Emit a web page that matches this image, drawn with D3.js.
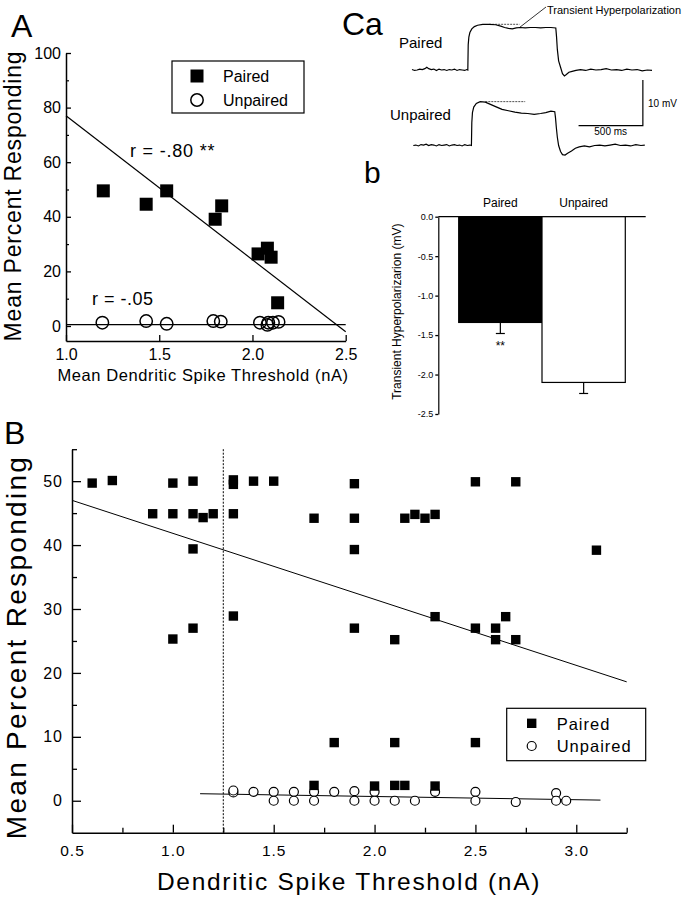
<!DOCTYPE html>
<html><head><meta charset="utf-8">
<script src="https://cdn.jsdelivr.net/npm/d3@7"></script>
<style>body{margin:0;background:#fff}svg{display:block;font-family:"Liberation Sans",Arial,sans-serif}</style>
</head><body>
<script>
// ---------- Panel A data ----------
const aPairedThreshold = [1.20, 1.43, 1.54, 1.80, 1.835, 2.03, 2.08, 2.10, 2.135];
const aPairedResponse  = [49.5, 44.6, 49.5, 39.1, 44.0, 26.4, 28.5, 25.2, 8.5];
const aUnpairedThreshold = [1.195, 1.43, 1.54, 1.79, 1.83, 2.04, 2.085, 2.14, 2.08, 2.11];
const aUnpairedResponse  = [1.2, 1.8, 0.8, 1.8, 1.6, 1.2, 1.2, 1.5, 0.4, 1.2];
const aPairedFit   = [[1.0, 77.0], [2.5, -2.1]];
const aUnpairedFit = [[1.0, 0.5], [2.5, 0.5]];
const aYTicks = [0, 20, 40, 60, 80, 100];
const aYMinor = [10, 30, 50, 70, 90];
const aXTicks = [1.0, 1.5, 2.0, 2.5];

// ---------- Panel B data ----------
const bPairedThreshold = [0.6,0.7,0.9,1.0,1.0,1.0,1.1,1.1,1.1,1.1,1.15,1.2,1.3,1.3,1.3,1.3,1.4,1.5,1.7,1.9,1.9,1.9,1.9,2.1,2.15,2.2,2.25,2.3,2.3,2.5,2.5,2.6,2.6,2.65,2.7,2.7,3.1,1.8,2.1,2.5,1.7,2.0,2.1,2.15,2.3];
const bPairedResponse  = [49.7,50.1,44.9,49.7,44.9,25.3,50.0,44.9,39.4,27.0,44.3,44.9,49.5,50.2,44.9,28.9,50.0,50.0,44.2,49.6,44.2,39.3,27.0,25.2,44.2,44.8,44.2,44.8,28.8,49.9,27.0,27.0,25.2,28.8,49.9,25.2,39.2,9.1,9.1,9.1,2.4,2.3,2.4,2.4,2.3];
const bUnpairedThreshold = [1.3,1.3,1.4,1.5,1.5,1.6,1.6,1.7,1.7,1.8,1.9,1.9,2.0,2.0,2.1,2.2,2.3,2.5,2.5,2.7,2.9,2.9,2.95];
const bUnpairedResponse  = [1.3,1.6,1.4,1.4,0,1.4,0,1.4,0,1.4,1.5,0,1.4,0,0,0,1.4,1.4,0,-0.2,1.2,0,0];
const bPairedFit   = [[0.5, 47.0], [3.25, 18.6]];
const bUnpairedFit = [[1.135, 1.1], [3.12, 0.1]];
const bCriterion = 1.25;
const bYTicks = [0, 10, 20, 30, 40, 50];
const bYMinor = [5, 15, 25, 35, 45, 55];
const bXTicks = [0.5, 1.0, 1.5, 2.0, 2.5, 3.0];
const bXMinor = [0.75, 1.25, 1.75, 2.25, 2.75, 3.25];

// ---------- Panel Ca data (time ms, membrane potential mV re baseline) ----------
const pairedTraceT = [0,20,40,60,80,100,115,130,150,170,190,210,230,250,270,290,310,330,350,370,390,410,425,434,437,442,450,465,485,510,550,600,650,690,720,750,780,810,840,880,920,960,1000,1040,1080,1118,1124,1130,1140,1155,1170,1185,1200,1220,1245,1275,1310,1350,1390,1430,1470,1510,1550,1590,1630,1670,1710,1750,1790,1830,1866];
const pairedTraceV = [0.1,-0.1,0.0,0.2,0.1,0.3,0.6,0.3,0.1,0.2,-0.1,0.2,0.0,0.1,-0.1,0.1,0.0,0.2,-0.1,0.1,0.0,-0.1,0.1,0.0,5.5,7.2,8.2,9.0,9.5,9.8,10.0,10.0,9.9,9.6,9.3,9.1,9.0,9.2,9.3,9.2,9.3,9.3,9.2,9.3,9.3,9.2,7.2,4.5,2.0,0.6,-0.8,-1.3,-1.0,-0.5,-0.3,-0.1,0.1,-0.1,0.2,0.0,0.1,0.3,0.0,0.1,-0.1,0.2,0.0,0.1,-0.2,0.0,-0.1];
const unpairedTraceT = [10,30,50,70,90,110,130,150,170,190,210,230,250,270,290,310,330,350,370,390,410,430,450,462,465,470,480,500,530,570,610,650,700,750,800,850,900,950,1000,1040,1080,1110,1116,1122,1130,1140,1155,1170,1190,1210,1240,1270,1300,1340,1380,1420,1460,1500,1540,1580,1620,1660,1700,1740,1780,1810];
const unpairedTraceV = [0.0,0.1,-0.1,0.2,0.1,0.3,0.0,0.2,0.1,-0.1,0.2,0.0,0.1,0.2,-0.1,0.1,0.2,0.0,0.1,-0.1,0.2,0.0,0.1,0.0,5.0,7.2,8.4,9.2,9.6,9.5,9.0,8.5,7.9,7.6,7.3,7.1,7.0,6.8,7.0,7.2,7.5,7.4,6.0,4.0,1.8,0.0,-1.3,-2.0,-2.1,-1.7,-1.2,-0.6,-0.3,-0.1,-0.3,0.0,0.1,-0.1,0.1,0.3,0.0,0.1,-0.1,0.2,0.0,0.1];
const pairedPlateauRef   = [[600, 10.0], [836, 10.0]];
const unpairedPlateauRef = [[570, 9.6], [880, 9.6]];
const scaleBarMs = 500, scaleBarMv = 10;

// ---------- Panel b data ----------
const groups = ["Paired", "Unpaired"];
const hyperMean = [-1.34, -2.10];
const hyperErr  = [0.14, 0.14];
const bbTicks = [0.0, -0.5, -1.0, -1.5, -2.0, -2.5];

// ================= drawing =================
const svg = d3.select("body").append("svg").attr("width", 683).attr("height", 900);
const FONT = '"Liberation Sans",Arial,sans-serif';

function text(x, y, s, size, opts = {}) {
  const t = svg.append("text").attr("x", x).attr("y", y).text(s)
    .attr("font-size", size).attr("fill", "#000");
  if (opts.anchor) t.attr("text-anchor", opts.anchor);
  if (opts.ls) t.attr("letter-spacing", opts.ls);
  if (opts.rotate) t.attr("transform", `rotate(-90,${x},${y})`);
  return t;
}
function styleAxis(g, size, ls) {
  g.select(".domain").attr("stroke", "#000").attr("stroke-width", 1.5);
  g.selectAll(".tick line").attr("stroke", "#000").attr("stroke-width", 1.3);
  g.selectAll("text").attr("font-size", size).attr("font-family", FONT).attr("fill", "#000");
  if (ls) g.selectAll("text").attr("letter-spacing", ls);
}

// ----- Panel A -----
const xA = d3.scaleLinear().domain([1.0, 2.5]).range([66, 345.7]);
const yA = d3.scaleLinear().domain([-5.5, 100]).range([341, 53]);
{
  const gy = svg.append("g").attr("transform", "translate(66,0)")
    .call(d3.axisLeft(yA).tickValues(aYTicks).tickSize(-5).tickSizeOuter(0).tickPadding(5).tickFormat(d3.format("d")));
  styleAxis(gy, 16);
  const gym = svg.append("g").attr("transform", "translate(66,0)")
    .call(d3.axisLeft(yA).tickValues(aYMinor).tickSize(-3).tickFormat(""));
  gym.select(".domain").remove(); gym.selectAll("line").attr("stroke", "#000").attr("stroke-width", 1.2);
  const gx = svg.append("g").attr("transform", "translate(0,341)")
    .call(d3.axisBottom(xA).tickValues(aXTicks).tickSize(-6).tickSizeOuter(0).tickPadding(8).tickFormat(d3.format(".1f")));
  styleAxis(gx, 16);
  const line = d3.line().x(d => xA(d[0])).y(d => yA(d[1]));
  svg.append("path").attr("d", line(aPairedFit)).attr("stroke", "#000").attr("stroke-width", 1.2).attr("fill", "none");
  svg.append("path").attr("d", line(aUnpairedFit)).attr("stroke", "#000").attr("stroke-width", 1.2).attr("fill", "none");
  svg.append("g").selectAll("rect").data(aPairedThreshold).join("rect")
    .attr("x", (d, i) => xA(d) - 6.5).attr("y", (d, i) => yA(aPairedResponse[i]) - 6.5)
    .attr("width", 13).attr("height", 13).attr("fill", "#000");
  svg.append("g").selectAll("circle").data(aUnpairedThreshold).join("circle")
    .attr("cx", d => xA(d)).attr("cy", (d, i) => yA(aUnpairedResponse[i])).attr("r", 6.2)
    .attr("fill", "none").attr("stroke", "#000").attr("stroke-width", 1.5);
  // legend
  svg.append("rect").attr("x", 172).attr("y", 61).attr("width", 132).attr("height", 52)
    .attr("fill", "#fff").attr("stroke", "#000").attr("stroke-width", 1.2);
  svg.append("rect").attr("x", 190.5).attr("y", 69.5).attr("width", 13).attr("height", 13).attr("fill", "#000");
  svg.append("circle").attr("cx", 197).attr("cy", 100).attr("r", 6.2).attr("fill", "none").attr("stroke", "#000").attr("stroke-width", 1.5);
  text(223, 82, "Paired", 16);
  text(223, 106, "Unpaired", 16);
  text(130, 157, "r = -.80 **", 18, { ls: 0.8 });
  text(92, 305, "r = -.05", 18, { ls: 0.5 });
  text(13, 196, "Mean Percent Responding", 23, { anchor: "middle", rotate: true, ls: 0.8 }).attr("dy", "0.35em");
  text(203, 381, "Mean Dendritic Spike Threshold (nA)", 16.5, { anchor: "middle", ls: 0.6 });
  text(11, 37, "A", 32);
}

// ----- Panel B -----
const xB = d3.scaleLinear().domain([0.5, 3.25]).range([72, 626.7]);
const yB = d3.scaleLinear().domain([-5, 55]).range([832.7, 449.2]);
{
  const gy = svg.append("g").attr("transform", "translate(72,0)")
    .call(d3.axisLeft(yB).tickValues(bYTicks).tickSize(-9).tickSizeOuter(0).tickPadding(9).tickFormat(d3.format("d")));
  styleAxis(gy, 16, 1);
  const gym = svg.append("g").attr("transform", "translate(72,0)")
    .call(d3.axisLeft(yB).tickValues(bYMinor).tickSize(-5).tickFormat(""));
  gym.select(".domain").remove(); gym.selectAll("line").attr("stroke", "#000").attr("stroke-width", 1.3);
  const gx = svg.append("g").attr("transform", "translate(0,832.7)")
    .call(d3.axisBottom(xB).tickValues(bXTicks).tickSize(-8).tickSizeOuter(0).tickPadding(12).tickFormat(d3.format(".1f")));
  styleAxis(gx, 15.5, 1);
  const gxm = svg.append("g").attr("transform", "translate(0,832.7)")
    .call(d3.axisBottom(xB).tickValues(bXMinor).tickSize(-5).tickFormat(""));
  gxm.select(".domain").remove(); gxm.selectAll("line").attr("stroke", "#000").attr("stroke-width", 1.3);

  svg.append("line").attr("x1", xB(bCriterion)).attr("x2", xB(bCriterion)).attr("y1", yB(55)).attr("y2", yB(-5))
    .attr("stroke", "#000").attr("stroke-width", 1).attr("stroke-dasharray", "2,1.5");
  const line = d3.line().x(d => xB(d[0])).y(d => yB(d[1]));
  svg.append("path").attr("d", line(bPairedFit)).attr("stroke", "#000").attr("stroke-width", 1).attr("fill", "none");
  svg.append("path").attr("d", line(bUnpairedFit)).attr("stroke", "#000").attr("stroke-width", 1).attr("fill", "none");
  svg.append("g").selectAll("circle").data(bUnpairedThreshold).join("circle")
    .attr("cx", d => xB(d)).attr("cy", (d, i) => yB(bUnpairedResponse[i])).attr("r", 4.5)
    .attr("fill", "#fff").attr("stroke", "#000").attr("stroke-width", 1.2);
  svg.append("g").selectAll("rect").data(bPairedThreshold).join("rect")
    .attr("x", d => xB(d) - 4.7).attr("y", (d, i) => yB(bPairedResponse[i]) - 4.7)
    .attr("width", 9.4).attr("height", 9.4).attr("fill", "#000");
  // legend
  svg.append("rect").attr("x", 506.7).attr("y", 708.3).attr("width", 139).attr("height", 52.4)
    .attr("fill", "#fff").attr("stroke", "#000").attr("stroke-width", 1.2);
  svg.append("rect").attr("x", 527).attr("y", 718.6).attr("width", 9.4).attr("height", 9.4).attr("fill", "#000");
  svg.append("circle").attr("cx", 531.7).attr("cy", 746).attr("r", 4.5).attr("fill", "none").attr("stroke", "#000").attr("stroke-width", 1.2);
  text(556.7, 729.5, "Paired", 16.5, { ls: 1 });
  text(556.7, 752, "Unpaired", 16.5, { ls: 1 });
  text(16, 647, "Mean Percent Responding", 28, { anchor: "middle", rotate: true, ls: 2.3 }).attr("dy", "0.35em");
  text(349, 890, "Dendritic Spike Threshold (nA)", 24.5, { anchor: "middle", ls: 1.7 });
  text(4, 444, "B", 32);
}

// ----- Panel Ca -----
const xT = d3.scaleLinear().domain([0, 1866]).range([412, 652]);
const yP = d3.scaleLinear().domain([0, 10]).range([70, 24.3]);
const yU = d3.scaleLinear().domain([0, 10]).range([145.5, 99.8]);
{
  const lp = d3.line().x(d => xT(d[0])).y(d => yP(d[1]));
  const lu = d3.line().x(d => xT(d[0])).y(d => yU(d[1]));
  svg.append("path").attr("d", lp(pairedTraceT.map((t, i) => [t, pairedTraceV[i]])))
    .attr("fill", "none").attr("stroke", "#000").attr("stroke-width", 1.2);
  svg.append("path").attr("d", lu(unpairedTraceT.map((t, i) => [t, unpairedTraceV[i]])))
    .attr("fill", "none").attr("stroke", "#000").attr("stroke-width", 1.2);
  svg.append("path").attr("d", lp(pairedPlateauRef)).attr("stroke", "#000").attr("stroke-width", 0.7)
    .attr("stroke-dasharray", "2,1").attr("fill", "none");
  svg.append("path").attr("d", lu(unpairedPlateauRef)).attr("stroke", "#000").attr("stroke-width", 0.7)
    .attr("stroke-dasharray", "2,1").attr("fill", "none");
  // annotation pointer
  svg.append("line").attr("x1", xT(836)).attr("y1", yP(9.3)).attr("x2", 546).attr("y2", 7)
    .attr("stroke", "#000").attr("stroke-width", 0.8);
  text(547, 14, "Transient Hyperpolarization", 11);
  text(399, 48, "Paired", 15);
  text(390, 120, "Unpaired", 15);
  // scale bar
  const sbT0 = 1795, sbV0 = 4.33;
  svg.append("path").attr("d", `M${xT(sbT0 - scaleBarMs)},${yU(sbV0)}H${xT(sbT0)}V${yU(sbV0 + scaleBarMv)}`)
    .attr("fill", "none").attr("stroke", "#000").attr("stroke-width", 1.2);
  text(648, 107, scaleBarMv + " mV", 10);
  text(xT(sbT0 - scaleBarMs / 2), 135, scaleBarMs + " ms", 10, { anchor: "middle" });
  text(342, 35, "Ca", 32);
}

// ----- Panel b -----
const xb = d3.scaleBand().domain(groups).range([438.3, 645.7]).paddingInner(0).paddingOuter(0.245);
const yb = d3.scaleLinear().domain([-2.5, 0]).range([414, 216.7]);
{
  const gy = svg.append("g").attr("transform", "translate(438.3,0)")
    .call(d3.axisLeft(yb).tickValues(bbTicks).tickSize(3).tickSizeOuter(0).tickPadding(2).tickFormat(d => d.toFixed(1)));
  styleAxis(gy, 9);
  gy.select(".domain").attr("stroke-width", 1.2);
  svg.append("line").attr("x1", 438.3).attr("x2", 645.7).attr("y1", yb(0)).attr("y2", yb(0)).attr("stroke", "#000").attr("stroke-width", 1.2);
  const fills = ["#000", "#fff"];
  groups.forEach((g, i) => {
    svg.append("rect").attr("x", xb(g)).attr("y", yb(0)).attr("width", xb.bandwidth())
      .attr("height", yb(hyperMean[i]) - yb(0)).attr("fill", fills[i]).attr("stroke", "#000").attr("stroke-width", 1.2);
    const cx = xb(g) + xb.bandwidth() / 2;
    svg.append("line").attr("x1", cx).attr("x2", cx).attr("y1", yb(hyperMean[i])).attr("y2", yb(hyperMean[i] - hyperErr[i]))
      .attr("stroke", "#000").attr("stroke-width", 1.2);
    svg.append("line").attr("x1", cx - 4.5).attr("x2", cx + 4.5).attr("y1", yb(hyperMean[i] - hyperErr[i])).attr("y2", yb(hyperMean[i] - hyperErr[i]))
      .attr("stroke", "#000").attr("stroke-width", 1.2);
    text(cx, 207, g, 12, { anchor: "middle" });
  });
  text(xb("Paired") + xb.bandwidth() / 2, 350, "**", 12, { anchor: "middle" });
  text(397.3, 311.7, "Transient Hyperpolarizarion (mV)", 12, { anchor: "middle", rotate: true }).attr("dy", "0.35em");
  text(364, 183, "b", 30);
}
</script>
</body></html>
